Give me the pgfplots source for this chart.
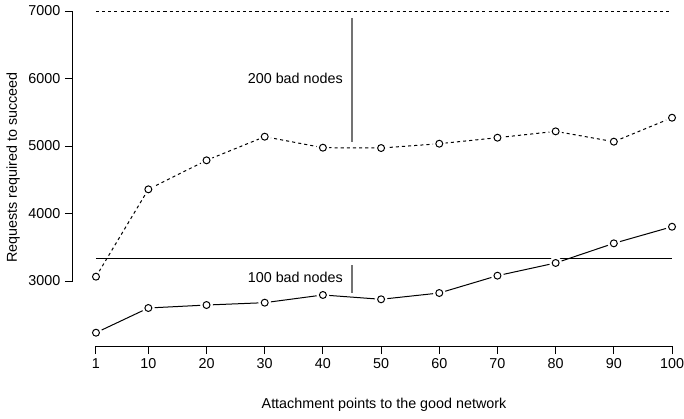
\documentclass[border=0pt]{standalone}
\usepackage{fontspec}
\setmainfont{Liberation Sans}
\usepackage{pgfplots}
\pgfplotsset{compat=1.18}
\pgfplotstableread{
x y
1 3064
10 4358
20 4788
30 5138
40 4975
50 4970
60 5034
70 5123
80 5217
90 5064
100 5419
}\twohundred
\pgfplotstableread{
x y
1 2234
10 2600
20 2644
30 2679
40 2793
50 2729
60 2822
70 3079
80 3267
90 3558
100 3804
}\onehundred
\begin{document}
\begin{tikzpicture}
\begin{axis}[
  scale only axis,
  width=458.25pt, height=259.5pt,
  xmin=-2.95, xmax=102.06,
  ymin=2037, ymax=7163,
  clip=false,
  axis x line*=bottom, axis y line*=left,
  x axis line style={draw=none}, y axis line style={draw=none},
  tick pos=left,
  tick align=outside,
  major tick length=6pt,
  tick style={black, line width=0.75pt},
  xtick={1,10,20,30,40,50,60,70,80,90,100},
  ytick={3000,4000,5000,6000,7000},
  /pgf/number format/1000 sep={},
  /pgf/number format/assume math mode=true,
  font=\fontsize{10.75pt}{12pt}\selectfont,
  ticklabel style={font=\fontsize{10.75pt}{12pt}\selectfont},
  xlabel={Attachment points to the good network},
  ylabel={Requests required to succeed},
  xlabel style={at={(axis description cs:0.509,-0.171)}, anchor=center},
  ylabel style={at={(axis description cs:-0.098,0.516)}, anchor=center},
]
% series lines
\addplot[black, line width=0.75pt, dash pattern=on 2.3pt off 2.3pt] table[x=x,y=y] {\twohundred};
\addplot[black, line width=0.75pt] table[x=x,y=y] {\onehundred};
% gaps around points (R type="b")
\addplot[white, only marks, mark=*, mark size=4.5pt] table[x=x,y=y] {\twohundred};
\addplot[white, only marks, mark=*, mark size=4.5pt] table[x=x,y=y] {\onehundred};
% points
\addplot[black, only marks, mark=*, mark size=2.6pt, mark options={fill=white, line width=0.75pt}] table[x=x,y=y] {\twohundred};
\addplot[black, only marks, mark=*, mark size=2.6pt, mark options={fill=white, line width=0.75pt}] table[x=x,y=y] {\onehundred};
% axis lines (R style)
\draw[line width=0.75pt] (axis cs:1,2037) -- (axis cs:100,2037);
\draw[line width=0.75pt] (axis cs:-2.95,3000) -- (axis cs:-2.95,7000);
% reference lines
\addplot[black, line width=0.75pt, dash pattern=on 2.3pt off 2.3pt] coordinates {(1,7000) (100,7000)};
\addplot[black, line width=0.75pt] coordinates {(1,3340) (100,3340)};
% annotation segments
\addplot[black!55, line width=1pt] coordinates {(45,5064) (45,6895)};
\addplot[black!55, line width=1pt] coordinates {(45,2827) (45,3237)};
\node[anchor=east, inner sep=0pt, xshift=-6.75pt] at (axis cs:45,6007) {200 bad nodes};
\node[anchor=east, inner sep=0pt, xshift=-6.75pt] at (axis cs:45,3060) {100 bad nodes};
\end{axis}
\pgfresetboundingbox
\path[use as bounding box] ([xshift=-54.75pt,yshift=-54pt]current axis.south west) rectangle (current axis.north east);
\end{tikzpicture}
\end{document}
